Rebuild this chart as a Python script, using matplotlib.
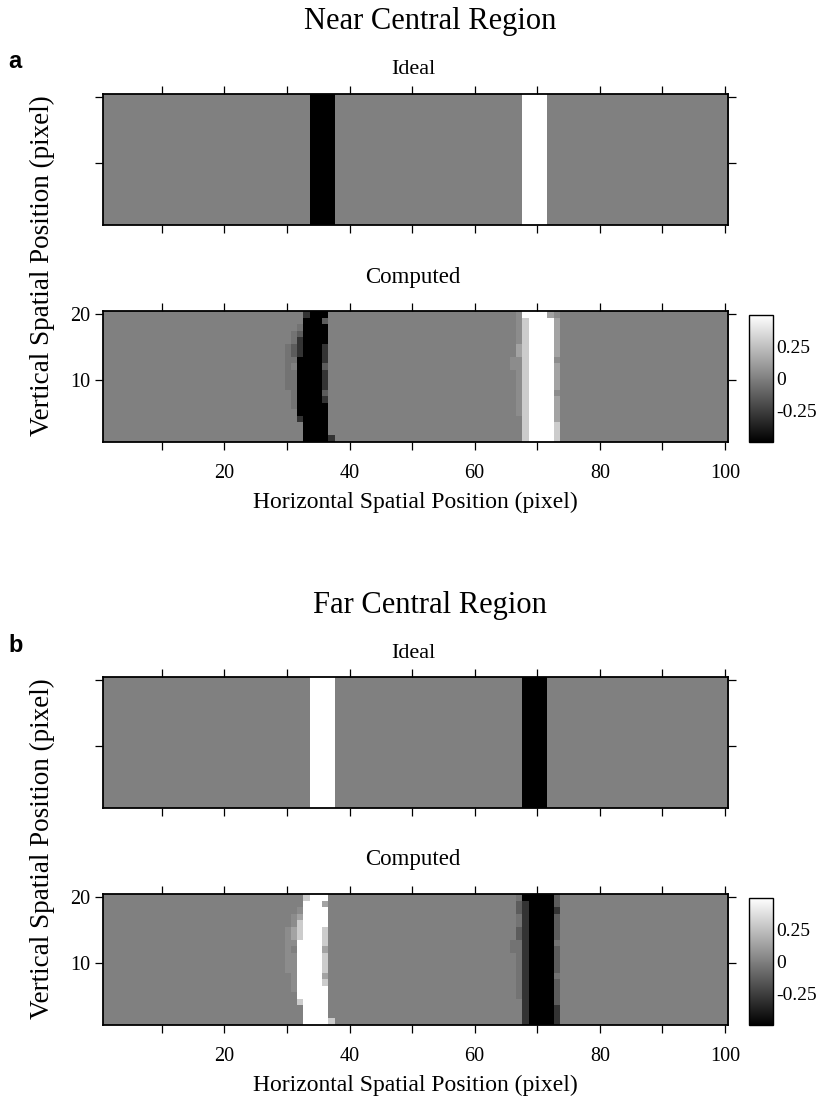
import numpy as np
import matplotlib
matplotlib.use("Agg")
import matplotlib.pyplot as plt

plt.rcParams['font.family'] = ['Liberation Serif', 'DejaVu Serif']

# grey levels used in the computed maps (one char per pixel)
LEVELS = {'.': 0.0, 'e': -0.05, 'd': -0.14, 'D': -0.3, 'K': -0.5,
          'f': 0.05, 'l': 0.14, 'L': 0.3, 'W': 0.5}

# ideal maps: (first column, last column, value)
near_ideal_bars = [(34, 37, -0.5), (68, 71, 0.5)]
far_ideal_bars = [(34, 37, 0.5), (68, 71, -0.5)]

# computed maps, rows from y=20 (top) down to y=1
# left window starts at column 29, right window at column 65
near_left = [
    "....DKKK..", "....KKKd..", "...eKKKK..", "..edKKKK..", "..eDKKKK..",
    ".edDKKKD..", ".edDKKKD..", ".eeKKKKD..", ".e.KKKKd..", ".eeKKKKD..",
    ".eeKKKKD..", ".eeKKKKD..", "..eKKKKd..", "..eKKKKD..", "..eKKKKK..",
    "...KKKKK..", "...DKKKK..", "....KKKK..", "....KKKK..", "....KKKKD.",
]
near_right = [
    "..fWWWWlf.", "..fLWWWWl.", "..fLWWWWl.", "..fLWWWWl.", "..fLWWWWl.",
    "..lLWWWWl.", "..lLWWWWl.", ".ffLWWWWf.", ".ffLWWWWl.", "..fLWWWWl.",
    "..fLWWWWl.", "..fLWWWWl.", "..fLWWWWf.", "..fLWWWWl.", "..fLWWWWl.",
    "..fLWWWWl.", "...LWWWWl.", "...LWWWWL.", "...LWWWWL.", "...LWWWWL.",
]
far_left = [
    "....LWWW..", "....WWWl..", "...fWWWW..", "..flWWWW..", "..fLWWWW..",
    ".flLWWWL..", ".flLWWWL..", ".ffWWWWL..", ".f.WWWWl..", ".ffWWWWL..",
    ".ffWWWWL..", ".ffWWWWL..", "..fWWWWl..", "..fWWWWL..", "..fWWWWW..",
    "...WWWWW..", "...LWWWW..", "....WWWW..", "....WWWW..", "....WWWWL.",
]
far_right = [
    "..eKKKKKd.", "..dDKKKKd.", "..dDKKKKD.", "..eDKKKKd.", "..eDKKKKd.",
    "..dDKKKKd.", "..dDKKKKd.", ".eeDKKKKe.", ".eeDKKKKd.", "..eDKKKKd.",
    "..eDKKKKd.", "..eDKKKKd.", "..eDKKKKe.", "..eDKKKKd.", "..eDKKKKd.",
    "..eDKKKKd.", "...DKKKKd.", "...DKKKKD.", "...DKKKKD.", "...DKKKKD.",
]
LEFT_START, RIGHT_START = 29, 65

x_ticks = list(range(10, 101, 10))
x_labels = ['', '20', '', '40', '', '60', '', '80', '', '100']
y_ticks = [10, 20]
cbar_ticks = [0.25, 0, -0.25]
cbar_labels = ['0.25', '0', '-0.25']


def ideal_map(bars):
    img = np.zeros((20, 100))
    for c0, c1, v in bars:
        img[:, c0 - 1:c1] = v
    return img


def computed_map(left, right):
    img = np.zeros((20, 100))
    for i, (a, b) in enumerate(zip(left, right)):
        img[i, LEFT_START - 1:LEFT_START - 1 + len(a)] = [LEVELS[ch] for ch in a]
        img[i, RIGHT_START - 1:RIGHT_START - 1 + len(b)] = [LEVELS[ch] for ch in b]
    return img


W, H = 819, 1103
fig = plt.figure(figsize=(W / 100, H / 100), dpi=100)


def rect(x0, y0, x1, y1):
    return [x0 / W, 1 - y1 / H, (x1 - x0) / W, (y1 - y0) / H]


def style(ax, labels):
    ax.set_xlim(0.5, 100.5)
    ax.set_ylim(0.5, 20.5)
    ax.set_xticks(x_ticks)
    ax.set_yticks(y_ticks)
    ax.tick_params(direction='out', length=5.5, width=0.9, top=True, right=True,
                   labelsize=14.5, pad=3)
    ax.tick_params(axis='x', pad=10)
    if labels:
        ax.set_xticklabels(x_labels)
    else:
        ax.set_xticklabels([])
        ax.set_yticklabels([])
    for s in ax.spines.values():
        s.set_linewidth(1.3)


def panel(dy, letter, title, bars, left, right):
    fig.text(430 / W, 1 - (22 + dy) / H, title, ha='center', va='center', fontsize=22)
    fig.text(8 / W, 1 - (62 + dy) / H, letter, ha='left', va='center', fontsize=17,
             fontweight='bold', family='Liberation Sans')
    fig.text(413 / W, 1 - (70 + dy) / H, 'Ideal', ha='center', va='center', fontsize=16)
    fig.text(413 / W, 1 - (277 + dy) / H, 'Computed', ha='center', va='center', fontsize=16.5)

    ax1 = fig.add_axes(rect(102.5, 94 + dy, 728, 225 + dy))
    ax1.imshow(ideal_map(bars), cmap='gray', vmin=-0.5, vmax=0.5, origin='upper',
               extent=(0.5, 100.5, 0.5, 20.5), interpolation='nearest', aspect='auto')
    style(ax1, False)

    ax2 = fig.add_axes(rect(102.5, 311 + dy, 728, 442 + dy))
    im = ax2.imshow(computed_map(left, right), cmap='gray', vmin=-0.5, vmax=0.5,
                    origin='upper', extent=(0.5, 100.5, 0.5, 20.5),
                    interpolation='nearest', aspect='auto')
    style(ax2, True)
    ax2.set_xlabel('Horizontal Spatial Position (pixel)', fontsize=17, labelpad=7)

    fig.text(42 / W, 1 - (266 + dy) / H, 'Vertical Spatial Position (pixel)',
             rotation=90, ha='center', va='center', fontsize=19.5)

    cax = fig.add_axes(rect(749, 315 + dy, 773, 442 + dy))
    cb = fig.colorbar(im, cax=cax, ticks=cbar_ticks)
    cb.ax.set_yticklabels(cbar_labels)
    cb.ax.tick_params(length=0, labelsize=14, pad=2)
    cb.outline.set_linewidth(1.0)


panel(0, 'a', 'Near Central Region', near_ideal_bars, near_left, near_right)
panel(583, 'b', 'Far Central Region', far_ideal_bars, far_left, far_right)

plt.savefig('out.png', dpi=100)
